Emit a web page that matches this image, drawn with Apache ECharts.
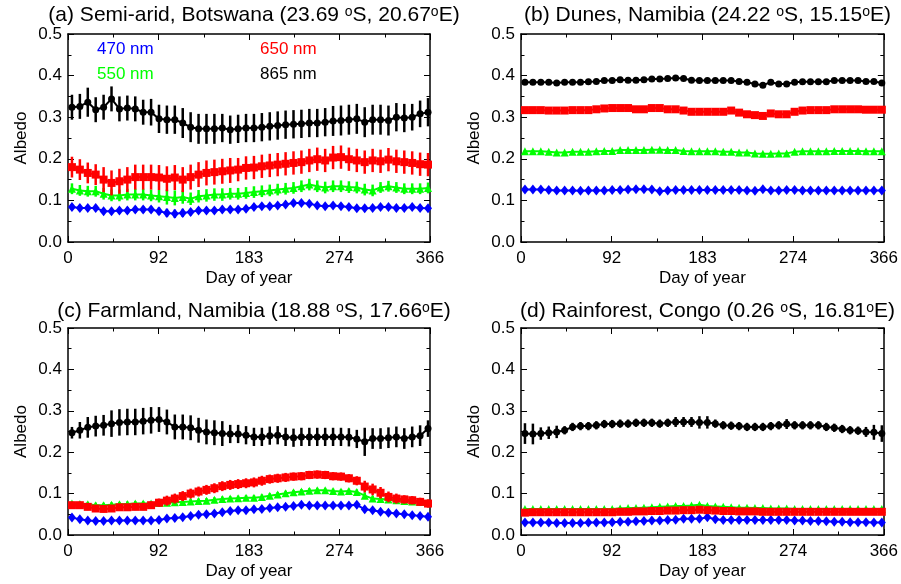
<!DOCTYPE html>
<html>
<head>
<meta charset="utf-8">
<title>Albedo by day of year</title>
<script src="https://cdn.jsdelivr.net/npm/echarts@6/dist/echarts.min.js"></script>
<style>
  html, body { margin: 0; padding: 0; background: #fff; }
  #chart { width: 901px; height: 584px; }
</style>
</head>
<body>
<div id="chart"></div>
<script>
// day of year of each 8-day composite
const days = [4, 12, 20, 28, 36, 44, 52, 60, 68, 76, 84, 92, 100, 108, 116, 124, 132, 140, 148, 156, 164, 172, 180,
  188, 196, 204, 212, 220, 228, 236, 244, 252, 260, 268, 276, 284, 292, 300, 308, 316, 324, 332, 340, 348, 356, 364];
const xTickLabels = ['0', '92', '183', '274', '366'];
const bands = ['470 nm', '550 nm', '650 nm', '865 nm'];

// (a) Semi-arid, Botswana
const a470 = [0.084, 0.082, 0.082, 0.082, 0.074, 0.074, 0.076, 0.076, 0.078, 0.078, 0.078, 0.074, 0.070, 0.068, 0.070, 0.072, 0.076, 0.076, 0.076, 0.078, 0.078, 0.078, 0.080,
  0.084, 0.086, 0.086, 0.088, 0.090, 0.094, 0.094, 0.092, 0.088, 0.086, 0.088, 0.086, 0.084, 0.081, 0.081, 0.082, 0.084, 0.084, 0.082, 0.082, 0.084, 0.082, 0.081];
const a550 = [0.128, 0.124, 0.122, 0.122, 0.116, 0.112, 0.112, 0.114, 0.114, 0.114, 0.112, 0.110, 0.108, 0.106, 0.108, 0.104, 0.110, 0.112, 0.114, 0.114, 0.116, 0.116, 0.118,
  0.120, 0.122, 0.124, 0.126, 0.128, 0.130, 0.134, 0.138, 0.134, 0.131, 0.134, 0.134, 0.132, 0.131, 0.126, 0.124, 0.131, 0.134, 0.131, 0.128, 0.128, 0.128, 0.130];
const a650 = [0.180, 0.174, 0.166, 0.162, 0.150, 0.142, 0.146, 0.150, 0.156, 0.156, 0.156, 0.155, 0.152, 0.155, 0.150, 0.156, 0.162, 0.166, 0.168, 0.170, 0.172, 0.174, 0.178,
  0.179, 0.182, 0.184, 0.186, 0.188, 0.190, 0.192, 0.196, 0.199, 0.196, 0.203, 0.204, 0.199, 0.196, 0.192, 0.196, 0.194, 0.198, 0.194, 0.192, 0.190, 0.187, 0.186];
const a865 = [0.324, 0.326, 0.336, 0.318, 0.324, 0.344, 0.320, 0.322, 0.320, 0.312, 0.312, 0.296, 0.294, 0.294, 0.286, 0.276, 0.272, 0.272, 0.272, 0.274, 0.270, 0.272, 0.274,
  0.274, 0.276, 0.278, 0.280, 0.282, 0.283, 0.284, 0.286, 0.286, 0.288, 0.291, 0.292, 0.294, 0.296, 0.288, 0.294, 0.294, 0.292, 0.300, 0.298, 0.300, 0.308, 0.312];
const a470err = [0.007, 0.007, 0.007, 0.007, 0.007, 0.007, 0.007, 0.008, 0.008, 0.008, 0.008, 0.009, 0.010, 0.010, 0.010, 0.008, 0.007, 0.007, 0.007, 0.007, 0.007, 0.006, 0.006,
  0.006, 0.006, 0.006, 0.006, 0.006, 0.006, 0.006, 0.006, 0.006, 0.006, 0.006, 0.006, 0.006, 0.006, 0.006, 0.006, 0.006, 0.006, 0.006, 0.006, 0.006, 0.006, 0.006];
const a550err = [0.013, 0.013, 0.013, 0.013, 0.014, 0.014, 0.014, 0.014, 0.014, 0.014, 0.014, 0.015, 0.018, 0.018, 0.016, 0.015, 0.015, 0.015, 0.015, 0.015, 0.014, 0.014, 0.014,
  0.014, 0.014, 0.014, 0.014, 0.014, 0.014, 0.014, 0.014, 0.014, 0.014, 0.014, 0.014, 0.014, 0.014, 0.014, 0.014, 0.013, 0.013, 0.013, 0.013, 0.013, 0.013, 0.013];
const a650err = [0.025, 0.025, 0.025, 0.025, 0.030, 0.030, 0.030, 0.030, 0.030, 0.030, 0.030, 0.030, 0.030, 0.030, 0.030, 0.030, 0.030, 0.030, 0.030, 0.030, 0.030, 0.028, 0.028,
  0.028, 0.028, 0.028, 0.028, 0.028, 0.028, 0.028, 0.028, 0.028, 0.028, 0.028, 0.028, 0.028, 0.028, 0.028, 0.028, 0.028, 0.028, 0.028, 0.028, 0.028, 0.028, 0.028];
const a865err = [0.030, 0.030, 0.035, 0.030, 0.030, 0.030, 0.030, 0.030, 0.030, 0.030, 0.032, 0.034, 0.034, 0.034, 0.036, 0.036, 0.036, 0.036, 0.036, 0.034, 0.034, 0.034, 0.034,
  0.034, 0.034, 0.034, 0.034, 0.034, 0.034, 0.034, 0.034, 0.034, 0.034, 0.036, 0.036, 0.036, 0.036, 0.036, 0.036, 0.036, 0.036, 0.034, 0.034, 0.032, 0.032, 0.034];

// (b) Dunes, Namibia
const b470 = [0.126, 0.126, 0.126, 0.125, 0.124, 0.124, 0.124, 0.123, 0.124, 0.124, 0.124, 0.125, 0.125, 0.126, 0.127, 0.127, 0.126, 0.122, 0.124, 0.125, 0.125, 0.125, 0.125,
  0.125, 0.125, 0.125, 0.125, 0.125, 0.124, 0.123, 0.127, 0.124, 0.124, 0.125, 0.125, 0.124, 0.124, 0.124, 0.124, 0.124, 0.124, 0.124, 0.124, 0.124, 0.124, 0.124];
const b550 = [0.218, 0.218, 0.218, 0.217, 0.215, 0.215, 0.217, 0.217, 0.217, 0.218, 0.219, 0.219, 0.221, 0.221, 0.221, 0.221, 0.222, 0.222, 0.221, 0.221, 0.219, 0.218, 0.218,
  0.218, 0.218, 0.217, 0.217, 0.215, 0.215, 0.213, 0.212, 0.212, 0.213, 0.213, 0.217, 0.218, 0.218, 0.218, 0.218, 0.219, 0.219, 0.219, 0.219, 0.218, 0.218, 0.218];
const b650 = [0.317, 0.317, 0.317, 0.316, 0.316, 0.316, 0.317, 0.317, 0.317, 0.319, 0.321, 0.322, 0.322, 0.322, 0.319, 0.319, 0.322, 0.322, 0.319, 0.319, 0.316, 0.313, 0.313,
  0.313, 0.313, 0.313, 0.316, 0.311, 0.307, 0.305, 0.303, 0.309, 0.307, 0.307, 0.313, 0.316, 0.317, 0.317, 0.317, 0.319, 0.319, 0.319, 0.319, 0.318, 0.318, 0.318];
const b865 = [0.384, 0.384, 0.384, 0.384, 0.382, 0.384, 0.384, 0.384, 0.385, 0.386, 0.388, 0.388, 0.390, 0.389, 0.389, 0.390, 0.392, 0.392, 0.393, 0.394, 0.393, 0.389, 0.388,
  0.388, 0.388, 0.388, 0.388, 0.386, 0.384, 0.380, 0.377, 0.384, 0.380, 0.380, 0.384, 0.385, 0.385, 0.385, 0.385, 0.388, 0.388, 0.388, 0.388, 0.386, 0.386, 0.382];
const b470err = [0.003, 0.003, 0.003, 0.003, 0.003, 0.003, 0.003, 0.003, 0.003, 0.003, 0.003, 0.003, 0.003, 0.003, 0.003, 0.003, 0.003, 0.003, 0.003, 0.003, 0.003, 0.003, 0.003,
  0.003, 0.003, 0.003, 0.003, 0.003, 0.003, 0.003, 0.003, 0.003, 0.003, 0.003, 0.003, 0.003, 0.003, 0.003, 0.003, 0.003, 0.003, 0.003, 0.003, 0.003, 0.003, 0.003];
const b550err = [0.003, 0.003, 0.003, 0.003, 0.003, 0.003, 0.003, 0.003, 0.003, 0.003, 0.003, 0.003, 0.003, 0.003, 0.003, 0.003, 0.003, 0.003, 0.003, 0.003, 0.003, 0.003, 0.003,
  0.003, 0.003, 0.003, 0.003, 0.003, 0.003, 0.003, 0.003, 0.003, 0.003, 0.003, 0.003, 0.003, 0.003, 0.003, 0.003, 0.003, 0.003, 0.003, 0.003, 0.003, 0.003, 0.003];
const b650err = [0.005, 0.005, 0.005, 0.005, 0.005, 0.005, 0.005, 0.005, 0.005, 0.005, 0.005, 0.005, 0.005, 0.005, 0.005, 0.005, 0.005, 0.005, 0.005, 0.005, 0.005, 0.005, 0.005,
  0.005, 0.005, 0.005, 0.005, 0.006, 0.006, 0.006, 0.006, 0.006, 0.006, 0.006, 0.005, 0.005, 0.005, 0.005, 0.005, 0.005, 0.005, 0.005, 0.005, 0.005, 0.005, 0.005];
const b865err = [0.004, 0.004, 0.004, 0.004, 0.004, 0.004, 0.004, 0.004, 0.004, 0.005, 0.005, 0.005, 0.005, 0.004, 0.004, 0.004, 0.004, 0.004, 0.004, 0.004, 0.004, 0.004, 0.004,
  0.004, 0.004, 0.004, 0.004, 0.005, 0.005, 0.006, 0.006, 0.006, 0.006, 0.006, 0.005, 0.004, 0.004, 0.004, 0.004, 0.004, 0.004, 0.004, 0.004, 0.004, 0.004, 0.005];

// (c) Farmland, Namibia
const c470 = [0.042, 0.038, 0.035, 0.034, 0.034, 0.035, 0.035, 0.035, 0.035, 0.035, 0.035, 0.036, 0.040, 0.041, 0.043, 0.046, 0.049, 0.050, 0.052, 0.055, 0.058, 0.060, 0.060,
  0.062, 0.063, 0.065, 0.067, 0.068, 0.070, 0.073, 0.071, 0.071, 0.071, 0.071, 0.071, 0.071, 0.073, 0.062, 0.060, 0.056, 0.054, 0.052, 0.050, 0.048, 0.046, 0.044];
const c550 = [0.076, 0.075, 0.074, 0.072, 0.072, 0.073, 0.074, 0.075, 0.076, 0.076, 0.076, 0.077, 0.078, 0.079, 0.080, 0.081, 0.082, 0.083, 0.085, 0.087, 0.088, 0.089, 0.090,
  0.090, 0.092, 0.095, 0.098, 0.101, 0.103, 0.105, 0.107, 0.108, 0.108, 0.106, 0.105, 0.106, 0.104, 0.095, 0.088, 0.087, 0.086, 0.084, 0.082, 0.081, 0.080, 0.078];
const c650 = [0.072, 0.072, 0.068, 0.064, 0.063, 0.064, 0.067, 0.067, 0.068, 0.068, 0.072, 0.078, 0.083, 0.088, 0.094, 0.100, 0.105, 0.109, 0.113, 0.118, 0.121, 0.123, 0.125,
  0.127, 0.131, 0.135, 0.137, 0.139, 0.141, 0.142, 0.145, 0.146, 0.145, 0.142, 0.141, 0.137, 0.131, 0.117, 0.110, 0.102, 0.092, 0.088, 0.086, 0.084, 0.080, 0.076];
const c865 = [0.247, 0.253, 0.260, 0.263, 0.265, 0.269, 0.272, 0.273, 0.273, 0.275, 0.277, 0.279, 0.273, 0.261, 0.261, 0.259, 0.253, 0.249, 0.247, 0.245, 0.244, 0.244, 0.241,
  0.237, 0.237, 0.240, 0.241, 0.237, 0.235, 0.237, 0.237, 0.237, 0.237, 0.237, 0.237, 0.236, 0.232, 0.225, 0.233, 0.233, 0.235, 0.237, 0.233, 0.237, 0.240, 0.257];
const c470err = [0.005, 0.005, 0.005, 0.005, 0.005, 0.005, 0.005, 0.005, 0.005, 0.005, 0.005, 0.005, 0.005, 0.005, 0.005, 0.005, 0.005, 0.005, 0.005, 0.005, 0.005, 0.005, 0.005,
  0.005, 0.005, 0.005, 0.005, 0.005, 0.005, 0.005, 0.005, 0.005, 0.005, 0.005, 0.005, 0.005, 0.005, 0.007, 0.006, 0.005, 0.005, 0.005, 0.005, 0.005, 0.005, 0.005];
const c550err = [0.006, 0.006, 0.006, 0.006, 0.006, 0.006, 0.006, 0.006, 0.006, 0.006, 0.006, 0.006, 0.006, 0.006, 0.006, 0.006, 0.006, 0.006, 0.006, 0.006, 0.006, 0.006, 0.006,
  0.006, 0.006, 0.006, 0.006, 0.006, 0.006, 0.006, 0.006, 0.006, 0.006, 0.006, 0.006, 0.006, 0.006, 0.008, 0.007, 0.006, 0.006, 0.006, 0.006, 0.006, 0.006, 0.006];
const c650err = [0.008, 0.008, 0.008, 0.008, 0.008, 0.008, 0.008, 0.008, 0.008, 0.008, 0.009, 0.010, 0.012, 0.012, 0.012, 0.012, 0.012, 0.012, 0.012, 0.012, 0.012, 0.012, 0.012,
  0.012, 0.012, 0.011, 0.011, 0.011, 0.010, 0.010, 0.010, 0.010, 0.010, 0.010, 0.010, 0.010, 0.011, 0.014, 0.014, 0.014, 0.013, 0.012, 0.010, 0.010, 0.010, 0.010];
const c865err = [0.014, 0.020, 0.025, 0.025, 0.025, 0.032, 0.032, 0.032, 0.032, 0.032, 0.032, 0.030, 0.030, 0.030, 0.030, 0.030, 0.030, 0.030, 0.030, 0.030, 0.022, 0.022, 0.022,
  0.022, 0.022, 0.022, 0.022, 0.022, 0.022, 0.022, 0.022, 0.022, 0.022, 0.022, 0.022, 0.022, 0.022, 0.034, 0.025, 0.025, 0.025, 0.025, 0.025, 0.025, 0.025, 0.020];

// (d) Rainforest, Congo
const d470 = [0.030, 0.030, 0.030, 0.030, 0.029, 0.029, 0.029, 0.029, 0.030, 0.030, 0.030, 0.031, 0.032, 0.032, 0.033, 0.034, 0.035, 0.035, 0.036, 0.037, 0.039, 0.039, 0.039,
  0.043, 0.038, 0.036, 0.036, 0.036, 0.036, 0.036, 0.036, 0.036, 0.036, 0.036, 0.035, 0.035, 0.034, 0.034, 0.033, 0.032, 0.032, 0.031, 0.031, 0.031, 0.030, 0.030];
const d550 = [0.063, 0.063, 0.063, 0.063, 0.063, 0.063, 0.063, 0.063, 0.063, 0.063, 0.063, 0.063, 0.064, 0.065, 0.065, 0.066, 0.067, 0.068, 0.069, 0.070, 0.070, 0.071, 0.073,
  0.070, 0.069, 0.068, 0.067, 0.066, 0.066, 0.065, 0.065, 0.064, 0.064, 0.064, 0.063, 0.063, 0.063, 0.063, 0.063, 0.063, 0.063, 0.063, 0.063, 0.063, 0.063, 0.063];
const d650 = [0.054, 0.055, 0.055, 0.055, 0.055, 0.055, 0.055, 0.055, 0.055, 0.055, 0.055, 0.055, 0.056, 0.056, 0.057, 0.057, 0.058, 0.058, 0.059, 0.059, 0.060, 0.060, 0.061,
  0.060, 0.059, 0.058, 0.058, 0.057, 0.057, 0.057, 0.056, 0.056, 0.056, 0.056, 0.056, 0.056, 0.056, 0.056, 0.056, 0.056, 0.056, 0.056, 0.056, 0.056, 0.056, 0.056];
const d865 = [0.245, 0.244, 0.245, 0.247, 0.249, 0.253, 0.261, 0.263, 0.263, 0.265, 0.268, 0.268, 0.269, 0.269, 0.271, 0.271, 0.271, 0.269, 0.271, 0.273, 0.273, 0.273, 0.272,
  0.272, 0.269, 0.265, 0.264, 0.263, 0.261, 0.261, 0.261, 0.263, 0.265, 0.268, 0.265, 0.265, 0.265, 0.265, 0.261, 0.259, 0.256, 0.253, 0.252, 0.249, 0.248, 0.245];
const d470err = [0.003, 0.003, 0.003, 0.003, 0.003, 0.003, 0.003, 0.003, 0.003, 0.003, 0.003, 0.003, 0.003, 0.003, 0.003, 0.003, 0.003, 0.003, 0.004, 0.004, 0.005, 0.006, 0.006,
  0.006, 0.005, 0.003, 0.003, 0.003, 0.003, 0.003, 0.003, 0.003, 0.003, 0.003, 0.003, 0.003, 0.003, 0.003, 0.003, 0.003, 0.003, 0.003, 0.003, 0.003, 0.003, 0.003];
const d550err = [0.003, 0.003, 0.003, 0.003, 0.003, 0.003, 0.003, 0.003, 0.003, 0.003, 0.003, 0.003, 0.003, 0.003, 0.003, 0.003, 0.003, 0.004, 0.004, 0.004, 0.004, 0.004, 0.004,
  0.004, 0.004, 0.003, 0.003, 0.003, 0.003, 0.003, 0.003, 0.003, 0.003, 0.003, 0.003, 0.003, 0.003, 0.003, 0.003, 0.003, 0.003, 0.003, 0.003, 0.003, 0.003, 0.003];
const d650err = [0.005, 0.005, 0.004, 0.004, 0.004, 0.004, 0.004, 0.004, 0.004, 0.004, 0.004, 0.004, 0.004, 0.004, 0.004, 0.004, 0.004, 0.004, 0.004, 0.004, 0.004, 0.004, 0.004,
  0.004, 0.004, 0.004, 0.004, 0.004, 0.004, 0.004, 0.004, 0.004, 0.004, 0.004, 0.004, 0.004, 0.004, 0.004, 0.004, 0.004, 0.004, 0.004, 0.004, 0.004, 0.004, 0.004];
const d865err = [0.025, 0.025, 0.015, 0.015, 0.015, 0.010, 0.010, 0.010, 0.010, 0.010, 0.010, 0.010, 0.010, 0.010, 0.010, 0.010, 0.010, 0.010, 0.010, 0.012, 0.012, 0.012, 0.015,
  0.015, 0.010, 0.010, 0.010, 0.010, 0.010, 0.010, 0.010, 0.010, 0.010, 0.012, 0.010, 0.010, 0.010, 0.010, 0.010, 0.010, 0.010, 0.010, 0.010, 0.012, 0.018, 0.020];

const FONT = '"Liberation Sans", Arial, Helvetica, sans-serif';
const colors = ['#0000ff', '#00ff00', '#ff0000', '#000000'];
const symbols = ['diamond', 'triangle', 'rect', 'circle'];
const symbolSizes = [[8, 10], 8, 8, 7];

const panels = [
  { title: '(a) Semi-arid, Botswana (23.69 {o|o}S, 20.67{o|o}E)', vals: [a470, a550, a650, a865], errs: [a470err, a550err, a650err, a865err],
    box: { left: 68, top: 34, width: 362, height: 208 }, titleTop: 0 },
  { title: '(b) Dunes, Namibia (24.22 {o|o}S, 15.15{o|o}E)', vals: [b470, b550, b650, b865], errs: [b470err, b550err, b650err, b865err],
    box: { left: 521, top: 34, width: 363, height: 208 }, titleTop: 0 },
  { title: '(c) Farmland, Namibia (18.88 {o|o}S, 17.66{o|o}E)', vals: [c470, c550, c650, c865], errs: [c470err, c550err, c650err, c865err],
    box: { left: 68, top: 328, width: 362, height: 207 }, titleTop: 296 },
  { title: '(d) Rainforest, Congo (0.26 {o|o}S, 16.81{o|o}E)', vals: [d470, d550, d650, d865], errs: [d470err, d550err, d650err, d865err],
    box: { left: 521, top: 328, width: 363, height: 207 }, titleTop: 296 }
];

const axisLine = { show: true, onZero: false, lineStyle: { color: '#000', width: 1.5 } };
const axisTick = { show: true, inside: true, length: 6, lineStyle: { color: '#000', width: 1 } };
const minorTick = { show: true, splitNumber: 2, length: 3.5, lineStyle: { color: '#000', width: 1 } };

const grids = [], xAxes = [], yAxes = [], titles = [], series = [];

panels.forEach((p, i) => {
  grids.push(Object.assign({ containLabel: false }, p.box));
  titles.push({
    text: p.title,
    left: p.box.left + p.box.width / 2,
    top: p.titleTop,
    textAlign: 'center',
    textStyle: {
      fontFamily: FONT, fontSize: 21, fontWeight: 'normal', color: '#000',
      rich: { o: { fontFamily: FONT, fontSize: 14, color: '#000', verticalAlign: 'top' } }
    }
  });
  const xBase = { gridIndex: i, type: 'value', min: 0, max: 366, interval: 91.5,
    axisLine: axisLine, axisTick: axisTick, minorTick: minorTick, splitLine: { show: false }, minorSplitLine: { show: false } };
  xAxes.push(Object.assign({}, xBase, {
    position: 'bottom',
    axisLabel: { margin: 8, color: '#000', fontFamily: FONT, fontSize: 17,
      formatter: v => xTickLabels[Math.round(v / 91.5)] },
    name: 'Day of year', nameLocation: 'middle', nameGap: 28,
    nameTextStyle: { fontFamily: FONT, fontSize: 17, color: '#000' }
  }));
  xAxes.push(Object.assign({}, xBase, { position: 'top', axisLabel: { show: false } }));
  const yBase = { gridIndex: i, type: 'value', min: 0, max: 0.5, interval: 0.1,
    axisLine: axisLine, axisTick: axisTick, minorTick: minorTick, splitLine: { show: false }, minorSplitLine: { show: false } };
  yAxes.push(Object.assign({}, yBase, {
    position: 'left',
    axisLabel: { margin: 6, color: '#000', fontFamily: FONT, fontSize: 17, formatter: v => v.toFixed(1) },
    name: 'Albedo', nameLocation: 'middle', nameGap: 38,
    nameTextStyle: { fontFamily: FONT, fontSize: 17, color: '#000' }
  }));
  yAxes.push(Object.assign({}, yBase, { position: 'right', axisLabel: { show: false } }));

  bands.forEach((band, k) => {
    const v = p.vals[k], e = p.errs[k];
    series.push({
      type: 'custom', name: band, xAxisIndex: 2 * i, yAxisIndex: 2 * i,
      data: days.map((d, j) => [d, v[j] - e[j], v[j] + e[j]]),
      encode: { x: 0, y: [1, 2] },
      z: 2 + k * 2,
      silent: true,
      renderItem: (params, api) => {
        const lo = api.coord([api.value(0), api.value(1)]);
        const hi = api.coord([api.value(0), api.value(2)]);
        return { type: 'line', shape: { x1: lo[0], y1: lo[1], x2: hi[0], y2: hi[1] },
          style: { stroke: colors[k], lineWidth: 2.5 } };
      }
    });
    series.push({
      type: 'line', name: band, xAxisIndex: 2 * i, yAxisIndex: 2 * i,
      data: days.map((d, j) => [d, v[j]]),
      symbol: symbols[k], symbolSize: symbolSizes[k], showSymbol: true,
      itemStyle: { color: colors[k] },
      lineStyle: { color: colors[k], width: 2 },
      z: 3 + k * 2,
      silent: true,
      emphasis: { disabled: true }
    });
  });
});

// wavelength labels inside panel (a)
const legendText = (text, color, left, top) => ({
  type: 'text', left: left, top: top,
  style: { text: text, fill: color, font: '17px ' + FONT }
});

const chart = echarts.init(document.getElementById('chart'), null, { renderer: 'canvas' });
chart.setOption({
  backgroundColor: '#fff',
  animation: false,
  title: titles,
  grid: grids,
  xAxis: xAxes,
  yAxis: yAxes,
  series: series,
  graphic: [
    legendText(bands[0], colors[0], 97, 41),
    legendText(bands[2], colors[2], 260, 41),
    legendText(bands[1], colors[1], 97, 66),
    legendText(bands[3], colors[3], 260, 66)
  ]
});
</script>
</body>
</html>
